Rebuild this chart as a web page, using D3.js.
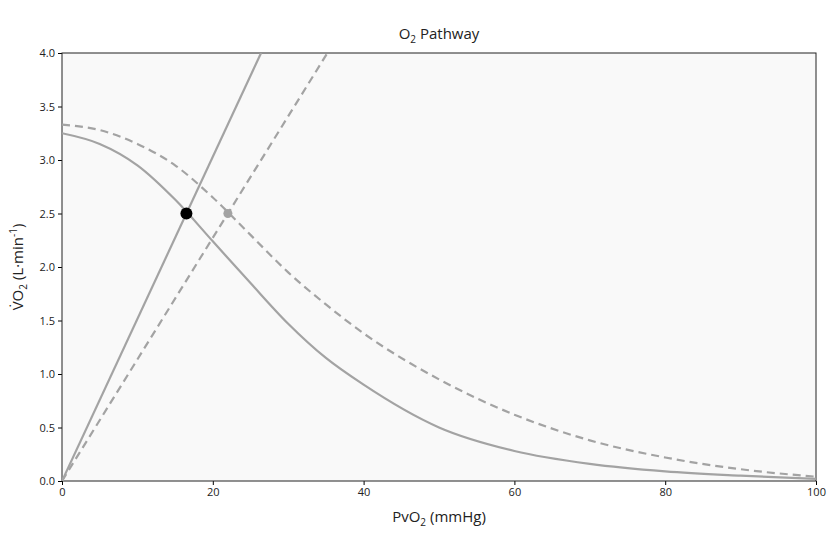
<!DOCTYPE html>
<html><head><meta charset="utf-8">
<script src="https://cdn.jsdelivr.net/npm/d3@7.9.0/dist/d3.min.js"></script>
<style>body{margin:0;background:#fff;font-family:"Open Sans","DejaVu Sans",sans-serif}</style>
</head><body><div id="chart"></div>
<script>
const xTicks = [0, 20, 40, 60, 80, 100];
const yTicks = [0, 0.5, 1, 1.5, 2, 2.5, 3, 3.5, 4];
const curveX = [0, 5, 10, 15, 20, 25, 30, 35, 40, 50, 60, 70, 80, 90, 100];
const solidCurve = [3.25, 3.15, 2.95, 2.63, 2.24, 1.85, 1.47, 1.15, 0.9, 0.5, 0.28, 0.16, 0.09, 0.05, 0.02];
const dashedCurve = [3.33, 3.28, 3.15, 2.95, 2.65, 2.3, 1.95, 1.65, 1.38, 0.95, 0.62, 0.38, 0.22, 0.11, 0.04];
const solidLine = [[0, 0], [26.4, 4.0]];
const dashedLine = [[0, 0], [35.2, 4.0]];
const solidPoint = [16.5, 2.5];
const dashedPoint = [22, 2.5];

const width = 828, height = 550;
const m = {left: 62, right: 12, top: 53, bottom: 69};
const svg = d3.select("#chart").append("svg").attr("width", width).attr("height", height);
const x = d3.scaleLinear().domain([0, 100]).range([m.left, width - m.right]);
const y = d3.scaleLinear().domain([0, 4]).range([height - m.bottom, m.top]);
const grey = "#a3a3a3";

svg.append("defs").append("clipPath").attr("id", "clip").append("rect")
    .attr("x", m.left).attr("y", m.top)
    .attr("width", x(100) - m.left).attr("height", y(0) - m.top);

svg.append("rect").attr("x", m.left).attr("y", m.top)
    .attr("width", x(100) - m.left).attr("height", y(0) - m.top)
    .attr("fill", "#f9f9f9");

const gx = svg.append("g").attr("transform", "translate(0," + y(0) + ")")
    .call(d3.axisBottom(x).tickValues(xTicks).tickSize(4).tickPadding(3));
const gy = svg.append("g").attr("transform", "translate(" + m.left + ",0)")
    .call(d3.axisLeft(y).tickValues(yTicks).tickFormat(d3.format(".1f")).tickSize(4).tickPadding(3));
[gx, gy].forEach(g => {
    g.selectAll("text").attr("font-size", 11).attr("fill", "#222").attr("font-family", "Open Sans, sans-serif");
    g.select(".domain").remove();
});
svg.append("rect").attr("x", m.left).attr("y", m.top)
    .attr("width", x(100) - m.left).attr("height", y(0) - m.top)
    .attr("fill", "none").attr("stroke", "#222").attr("stroke-width", 1);

const plot = svg.append("g").attr("clip-path", "url(#clip)");
const line = d3.line().x(d => x(d[0])).y(d => y(d[1])).curve(d3.curveMonotoneX);
const draw = (data, dash) => plot.append("path").datum(data).attr("d", line)
    .attr("fill", "none").attr("stroke", grey).attr("stroke-width", 2.2)
    .attr("stroke-dasharray", dash ? "8,5" : null);

draw(curveX.map((v, i) => [v, solidCurve[i]]), false);
draw(curveX.map((v, i) => [v, dashedCurve[i]]), true);
draw(solidLine, false);
draw(dashedLine, true);

svg.append("circle").attr("cx", x(dashedPoint[0])).attr("cy", y(dashedPoint[1])).attr("r", 4.5).attr("fill", grey);
svg.append("circle").attr("cx", x(solidPoint[0])).attr("cy", y(solidPoint[1])).attr("r", 6).attr("fill", "#000");

const title = svg.append("text").attr("x", (m.left + x(100)) / 2).attr("y", 39)
    .attr("text-anchor", "middle").attr("font-size", 15).attr("fill", "#222");
title.append("tspan").text("O");
title.append("tspan").text("2").attr("font-size", 10).attr("dy", 4);
title.append("tspan").text(" Pathway").attr("dy", -4);

const xl = svg.append("text").attr("x", (m.left + x(100)) / 2).attr("y", 522)
    .attr("text-anchor", "middle").attr("font-size", 15).attr("fill", "#222");
xl.append("tspan").text("PvO");
xl.append("tspan").text("2").attr("font-size", 10).attr("dy", 4);
xl.append("tspan").text(" (mmHg)").attr("dy", -4);

const yl = svg.append("text").attr("transform", "translate(23," + (m.top + y(0)) / 2 + ") rotate(-90)")
    .attr("text-anchor", "middle").attr("font-size", 15).attr("fill", "#222");
yl.append("tspan").text("V\u0307O");
yl.append("tspan").text("2").attr("font-size", 10).attr("dy", 4);
yl.append("tspan").text(" (L\u00B7min").attr("dy", -4);
yl.append("tspan").text("-1").attr("font-size", 10).attr("dy", -6);
yl.append("tspan").text(")").attr("dy", 6);
</script></body></html>
